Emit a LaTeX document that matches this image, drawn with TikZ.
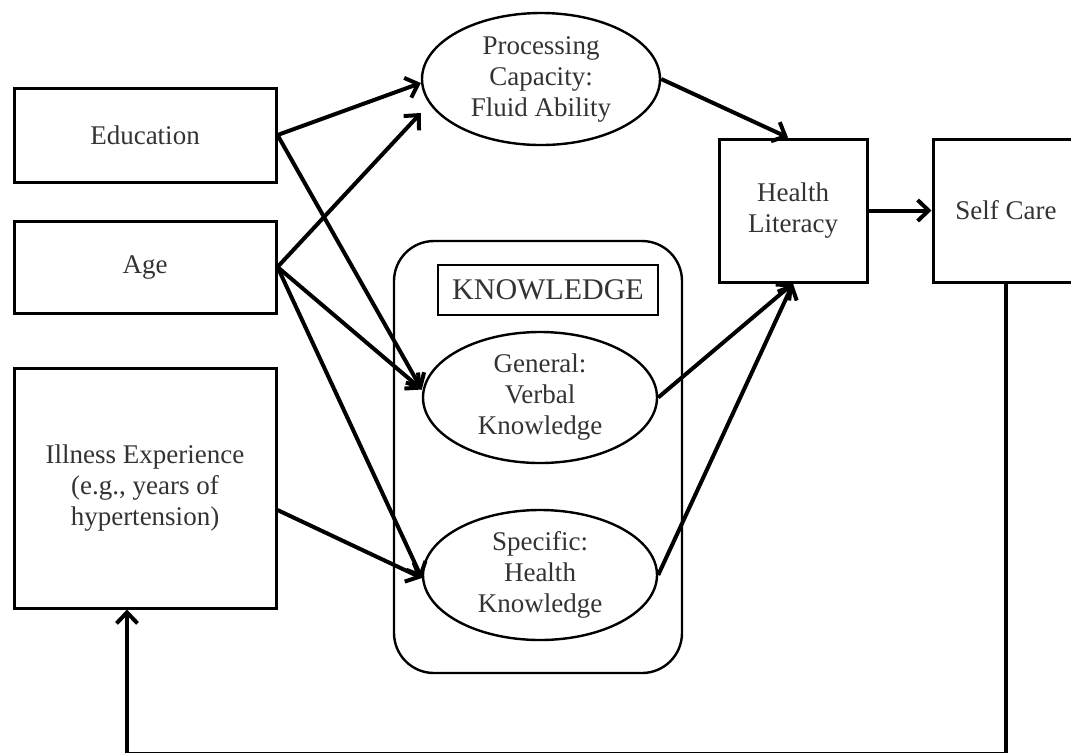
\documentclass[tikz,border=0pt]{standalone}
\usepackage{fontspec}
\setmainfont{Liberation Serif}
\usetikzlibrary{arrows.meta,shapes.geometric}
\begin{document}
\begin{tikzpicture}[x=0.5pt,y=-0.5pt,
  font=\fontsize{13.5}{15.5}\selectfont, text=black!80,
  box/.style={draw, line width=1.5pt, minimum width=131pt, align=center, inner sep=0pt},
  oval/.style={draw, ellipse, line width=1.2pt, align=center, inner sep=0pt},
  arrow/.style={line width=2pt, -{Straight Barb[length=5.5pt,width=10.5pt]}}]

\useasboundingbox (0,0) rectangle (1071,752);
\clip (0,0) rectangle (1071,752);

% left boxes
\node[box, minimum height=47pt] (edu) at (145,135) {Education};
\node[box, minimum height=46pt] (age) at (145,267) {Age};
\node[box, minimum height=120pt] (ill) at (145,488) {Illness Experience\\(e.g., years of\\hypertension)};

% knowledge group
\draw[line width=1.2pt, rounded corners=20pt] (394,241) rectangle (682,673);
\node[draw, line width=1.2pt, minimum width=110pt, minimum height=25pt, inner sep=0pt,
  font=\fontsize{15}{18}\selectfont] (klabel) at (548,290) {KNOWLEDGE};
\node[oval, minimum width=117pt, minimum height=65.5pt] (gen) at (540,397.5) {General:\\Verbal\\Knowledge};
\node[oval, minimum width=117pt, minimum height=65pt] (spec) at (540,575) {Specific:\\Health\\Knowledge};

% top and right
\node[oval, minimum width=119pt, minimum height=66pt] (proc) at (541,79) {Processing\\Capacity:\\Fluid Ability};
\node[box, minimum width=74pt, minimum height=71.5pt] (hl) at (793,210.5) {Health\\Literacy};
\node[box, minimum width=73pt, minimum height=71.5pt] (sc) at (1006,210.5) {Self Care};

% paths
\draw[arrow] (edu.east) -- ([yshift=-2pt]proc.west);
\draw[arrow] (age.east) -- ([yshift=-17pt]proc.west);
\draw[arrow] (edu.east) -- ([yshift=4pt]gen.west);
\draw[arrow] (age.east) -- ([yshift=4pt]gen.west);
\draw[arrow] (age.east) -- ([yshift=-1.5pt]spec.west);
\draw[arrow] ([yshift=-11pt]ill.east) -- ([yshift=-1.5pt]spec.west);
\draw[arrow] (proc.east) -- ([xshift=-2.5pt]hl.north);
\draw[arrow] (gen.east) -- (hl.south);
\draw[arrow] (spec.east) -- (hl.south);
\draw[arrow] (hl.east) -- (sc.west);

% feedback
\coordinate (low) at (1006,754);
\draw[arrow] (sc.south) -- (low) -| ([xshift=-9pt]ill.south);

\end{tikzpicture}
\end{document}
